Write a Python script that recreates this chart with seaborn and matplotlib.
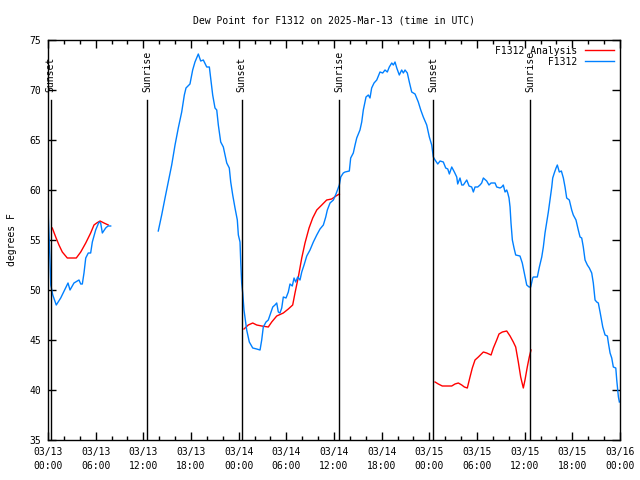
import matplotlib
matplotlib.use("Agg")
import matplotlib.pyplot as plt
import matplotlib.dates as mdates
from matplotlib.lines import Line2D
import seaborn as sns
import pandas as pd

# hours since 2025-03-13 00:00 UTC, dew point in degrees F
start = pd.Timestamp("2025-03-13 00:00")

obs1_hours = [0, 0.05, 0.25, 0.35, 0.6, 1.04, 1.6, 2.52, 2.77, 3.27, 3.9, 4.12, 4.32, 4.53,
              4.75, 5.07, 5.37, 5.58, 6.0, 6.42, 6.63, 6.84, 7.26, 7.55, 7.89]
obs1_vals = [59.2, 57.2, 53.0, 50.5, 49.5, 48.5, 49.2, 50.7, 50.0, 50.7, 51.0, 50.6, 50.6, 51.7,
             53.2, 53.7, 53.7, 54.8, 56.0, 56.8, 56.7, 55.7, 56.2, 56.4, 56.4]

obs2_hours = [13.88, 14.31, 14.73, 15.14, 15.57, 15.99, 16.40, 16.83, 17.16, 17.37, 17.87, 18.21,
              18.50, 18.92, 19.22, 19.55, 19.98, 20.31, 20.48, 20.73, 21.02, 21.24, 21.44, 21.74,
              22.07, 22.5, 22.82, 23.0, 23.25, 23.54, 23.83, 23.96, 24.17, 24.26, 24.38,
              24.51, 24.67, 25.01, 25.34, 25.77, 26.27, 26.69, 26.90, 27.10, 27.44, 27.73, 28.03,
              28.29, 28.57, 28.79, 28.99, 29.20, 29.42, 29.62, 29.96, 30.25, 30.46, 30.75, 30.97,
              31.18, 31.43, 31.72, 31.94, 32.23, 32.57, 32.98, 33.40, 33.83, 34.24, 34.66, 34.96,
              35.16, 35.50, 35.92, 36.25,
              36.67, 36.85, 37.17, 37.39, 37.93, 38.10, 38.43, 38.65, 38.86, 39.27, 39.49, 39.69,
              40.03, 40.32, 40.53, 40.74, 41.04, 41.38, 41.79, 42.13, 42.42, 42.71, 42.96, 43.27,
              43.47, 43.68, 43.90, 44.22, 44.52, 44.73, 44.94, 45.23, 45.48, 45.78, 46.2, 46.61,
              46.92, 47.24, 47.67, 48.0, 48.3,
              48.5, 48.72, 49.06, 49.35, 49.76, 50.06, 50.32, 50.52, 50.82, 51.15, 51.45, 51.57,
              51.86, 52.08, 52.28, 52.71, 53.0, 53.33, 53.54, 53.75, 54.09, 54.38, 54.59, 54.8,
              55.22, 55.51, 55.77, 56.06, 56.27, 56.48, 56.9, 57.11, 57.31, 57.53, 57.74, 57.87,
              58.03, 58.16, 58.28, 58.45, 58.66, 58.87, 59.41, 59.7, 59.96, 60.26, 60.55,
              60.76, 61.01, 61.09, 61.59, 61.85, 62.15, 62.35, 62.56, 62.78, 62.98, 63.19, 63.41,
              63.53, 63.73, 63.95, 64.11, 64.36, 64.62, 64.87, 65.08, 65.29, 65.62, 65.92, 66.12,
              66.46, 66.75, 66.97, 67.18, 67.38, 67.6, 67.89, 68.14, 68.44, 68.64, 68.86, 69.07,
              69.27, 69.49, 69.83, 70.12, 70.41, 70.54, 70.75, 70.96, 71.16, 71.47, 71.59, 71.8,
              71.92]
obs2_vals = [55.9, 57.5, 59.2, 60.8, 62.5, 64.5, 66.2, 67.8, 69.5, 70.2, 70.6, 72.0,
             72.8, 73.6, 72.9, 73.0, 72.3, 72.3, 71.2, 69.5, 68.2, 68.0, 66.5, 64.8,
             64.3, 62.7, 62.2, 60.8, 59.5, 58.2, 57.0, 55.5, 54.8, 52.8, 50.7,
             49.7, 48.0, 46.0, 44.8, 44.2, 44.1, 44.0, 45.0, 46.3, 46.8, 47.0, 47.7,
             48.3, 48.5, 48.7, 47.8, 47.7, 48.2, 49.3, 49.2, 49.8, 50.6, 50.4, 51.2,
             50.8, 51.3, 51.0, 51.8, 52.5, 53.4, 54.0, 54.8, 55.5, 56.1, 56.5, 57.3,
             58.0, 58.7, 59.0, 59.6,
             60.5, 61.3, 61.7, 61.8, 61.9, 63.2, 63.7, 64.5, 65.2, 66.0, 66.8, 68.0,
             69.3, 69.5, 69.2, 70.2, 70.7, 71.0, 71.8, 71.7, 72.0, 71.8, 72.3, 72.7,
             72.5, 72.8, 72.2, 71.5, 72.0, 71.7, 72.0, 71.7, 70.8, 69.8, 69.6, 68.8,
             68.0, 67.3, 66.5, 65.3, 64.5,
             63.3, 63.0, 62.6, 62.9, 62.8, 62.2, 62.1, 61.6, 62.3, 61.8, 61.3, 60.6,
             61.2, 60.5, 60.5, 61.0, 60.4, 60.3, 59.8, 60.3, 60.3, 60.5, 60.7, 61.2,
             60.9, 60.5, 60.7, 60.7, 60.7, 60.3, 60.2, 60.3, 60.5, 59.8, 60.0, 59.7,
             59.2, 58.3, 56.7, 55.0, 54.2, 53.5, 53.4, 52.7, 51.7, 50.5, 50.3,
             50.3, 51.2, 51.3, 51.3, 52.3, 53.3, 54.3, 55.7, 56.8, 57.8, 59.0, 60.3,
             61.2, 61.7, 62.2, 62.5, 61.8, 61.9, 61.2, 60.3, 59.2, 59.0, 58.0, 57.5,
             57.0, 56.0, 55.3, 55.2, 54.3, 53.0, 52.5, 52.2, 51.7, 50.7, 49.0, 48.8,
             48.7, 47.8, 46.3, 45.5, 45.4, 44.7, 43.7, 43.2, 42.3, 42.2, 41.0, 39.3,
             38.8]

ana1_hours = [0.54, 0.97, 1.38, 1.8, 2.43, 3.56, 4.12, 4.75, 5.37, 5.79, 6.13, 6.55, 7.05, 7.59]
ana1_vals = [56.2, 55.3, 54.5, 53.8, 53.2, 53.2, 53.8, 54.7, 55.7, 56.5, 56.7, 56.9, 56.7, 56.5]

ana2_hours = [24.67, 25.21, 25.77, 26.27, 26.9, 27.73, 28.16, 28.79, 29.62, 30.25, 30.8, 31.09,
              31.51, 31.94, 32.35, 32.86, 33.32, 33.83, 34.46, 35.08, 35.71, 36.25, 36.67]
ana2_vals = [46.1, 46.5, 46.7, 46.5, 46.4, 46.3, 46.8, 47.4, 47.7, 48.1, 48.5, 49.7,
             51.3, 53.2, 54.7, 56.2, 57.2, 58.0, 58.5, 59.0, 59.1, 59.4, 59.6]

ana3_hours = [48.72, 49.13, 49.63, 50.19, 50.82, 51.23, 51.65, 52.08, 52.41, 52.78, 53.12, 53.41,
              53.75, 54.17, 54.8, 55.22, 55.77, 56.06, 56.48, 56.77, 57.19, 57.74, 58.16, 58.57,
              58.87, 59.2, 59.5, 59.83, 60.04, 60.33, 60.58, 60.8]
ana3_vals = [40.8, 40.6, 40.4, 40.4, 40.4, 40.6, 40.7, 40.5, 40.3, 40.2, 41.3, 42.2,
             43.0, 43.3, 43.8, 43.7, 43.5, 44.2, 45.0, 45.6, 45.8, 45.9, 45.4, 44.8,
             44.3, 42.8, 41.3, 40.2, 41.0, 42.3, 43.3, 44.0]

sun_hours = [0.34, 12.5, 24.38, 36.67, 48.5, 60.72]
sun_labels = ["Sunset", "Sunrise", "Sunset", "Sunrise", "Sunset", "Sunrise"]


def to_frame(segments):
    parts = []
    for i, (h, v) in enumerate(segments):
        parts.append(pd.DataFrame({"time": start + pd.to_timedelta(h, unit="h"),
                                   "value": v, "seg": i}))
    return pd.concat(parts, ignore_index=True)


obs = to_frame([(obs1_hours, obs1_vals), (obs2_hours, obs2_vals)])
ana = to_frame([(ana1_hours, ana1_vals), (ana2_hours, ana2_vals), (ana3_hours, ana3_vals)])

plt.rcParams["font.family"] = ["DejaVu Sans Mono"]
plt.rcParams["font.size"] = 7

fig = plt.figure(figsize=(6.4, 4.8), dpi=100)
ax = fig.add_axes([48 / 640, 40 / 480, 572 / 640, 400 / 480])

red = "#ff0000"
blue = "#0080ff"

sns.lineplot(data=ana, x="time", y="value", units="seg", estimator=None, sort=False,
             color=red, linewidth=1, ax=ax)
sns.lineplot(data=obs, x="time", y="value", units="seg", estimator=None, sort=False,
             color=blue, linewidth=1, ax=ax)

for h, lab in zip(sun_hours, sun_labels):
    t = start + pd.Timedelta(hours=h)
    ax.plot([t, t], [35, 69], color="black", linewidth=1)
    ax.text(t, 69.8, lab, rotation=90, ha="center", va="bottom", fontsize=7)

ax.set_xlim(start, start + pd.Timedelta(hours=72))
ax.set_ylim(35, 75)
ax.set_yticks(range(35, 76, 5))
ax.xaxis.set_major_locator(mdates.HourLocator(byhour=range(0, 24, 6)))
ax.xaxis.set_minor_locator(mdates.HourLocator(byhour=range(0, 24, 2)))
ax.xaxis.set_major_formatter(mdates.DateFormatter("%m/%d\n%H:%M"))
ax.tick_params(which="both", direction="in", top=True, right=True, labelsize=7, width=1)
ax.tick_params(which="major", length=6, pad=5)
ax.tick_params(which="minor", length=3)
for lbl in ax.get_xticklabels():
    lbl.set_linespacing(1.5)
for s in ax.spines.values():
    s.set_linewidth(1)

ax.set_xlabel("")
ax.set_ylabel("degrees F", fontsize=7, labelpad=9)
ax.set_title("Dew Point for F1312 on 2025-Mar-13 (time in UTC)", fontsize=7, pad=12)

handles = [Line2D([], [], color=red, linewidth=1), Line2D([], [], color=blue, linewidth=1)]
ax.legend(handles, ["F1312 Analysis", "         F1312"], loc="upper right", frameon=False,
          markerfirst=False, handlelength=3, handletextpad=0.8, labelspacing=0.1,
          borderaxespad=0.2, fontsize=7)

fig.savefig("out.png", dpi=100)
